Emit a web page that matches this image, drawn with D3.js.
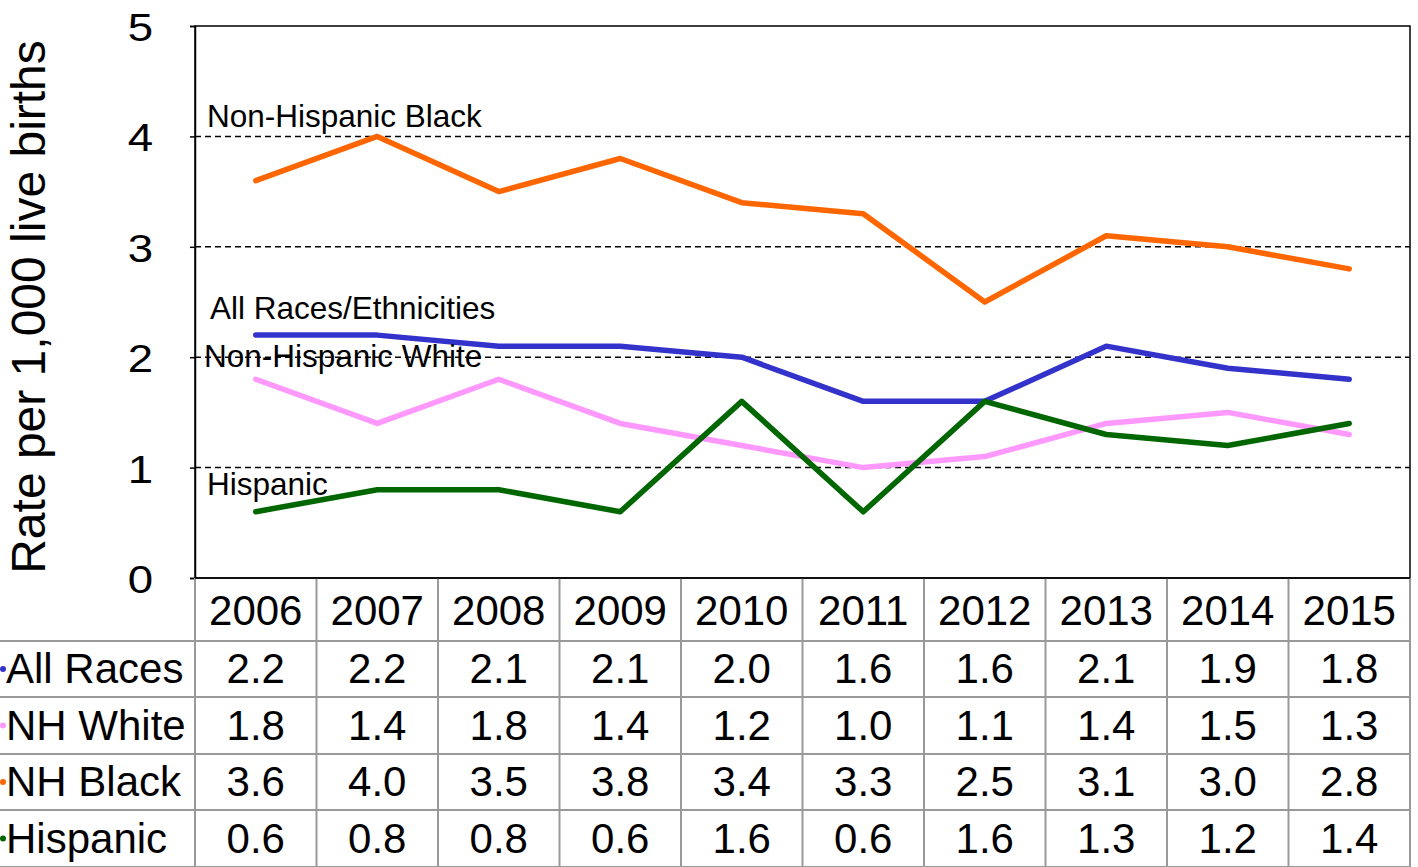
<!DOCTYPE html>
<html><head><meta charset="utf-8">
<script src="https://cdn.jsdelivr.net/npm/d3@7"></script>
<style>body{margin:0;background:#fff}svg{display:block;font-family:"Liberation Sans",Arial,sans-serif}</style>
</head><body><svg id="c" width="1418" height="867"></svg>
<script>
const years = ["2006","2007","2008","2009","2010","2011","2012","2013","2014","2015"];
const allRaces = [2.2,2.2,2.1,2.1,2.0,1.6,1.6,2.1,1.9,1.8];
const nhWhite = [1.8,1.4,1.8,1.4,1.2,1.0,1.1,1.4,1.5,1.3];
const nhBlack = [3.6,4.0,3.5,3.8,3.4,3.3,2.5,3.1,3.0,2.8];
const hispanic = [0.6,0.8,0.8,0.6,1.6,0.6,1.6,1.3,1.2,1.4];
const yTicks = [0,1,2,3,4,5];
const seriesNames = ["All Races","NH White","NH Black","Hispanic"];
const seriesLabels = ["All Races/Ethnicities","Non-Hispanic White","Non-Hispanic Black","Hispanic"];
const seriesColors = ["#3333CC","#FF99FF","#FF6600","#006600"];
const seriesValues = [allRaces, nhWhite, nhBlack, hispanic];

const svg = d3.select("#c");
const L=195, R=1410, T=26, B=578;
const x = d3.scaleBand().domain(years).range([L,R]);
const y = d3.scaleLinear().domain([0,5]).range([B,T]);

// gridlines
svg.append("g").selectAll("line").data(yTicks.filter(d=>d>0&&d<5)).join("line")
  .attr("x1",L).attr("x2",R).attr("y1",d=>y(d)).attr("y2",d=>y(d))
  .attr("stroke","#000").attr("stroke-width",1.5).attr("stroke-dasharray","6,4");

// frame
svg.append("rect").attr("x",L).attr("y",T).attr("width",R-L).attr("height",B-T)
  .attr("fill","none").attr("stroke","#000").attr("stroke-width",1.5);

// y axis
const ya = svg.append("g").attr("transform",`translate(${L},0)`)
  .call(d3.axisLeft(y).tickValues(yTicks).tickSize(5).tickFormat(""));
ya.select(".domain").attr("stroke","#000").attr("stroke-width",1.5);
ya.selectAll("line").attr("stroke","#000").attr("stroke-width",1.5);
svg.append("g").selectAll("text").data(yTicks).join("text")
  .attr("transform",d=>`translate(153,${y(d)+15}) scale(1.2,1)`)
  .attr("text-anchor","end").attr("font-size",38).attr("fill","#000").text(d=>d);

svg.append("text").attr("transform",`translate(45,307) rotate(-90)`)
  .attr("text-anchor","middle").attr("font-size",48).attr("fill","#000")
  .text("Rate per 1,000 live births");

// lines
const line = d3.line().x((d,i)=>x(years[i])+x.bandwidth()/2).y(d=>y(d));
svg.append("g").selectAll("path").data(seriesValues).join("path")
  .attr("d",d=>line(d)).attr("fill","none")
  .attr("stroke",(d,i)=>seriesColors[i]).attr("stroke-width",5.5)
  .attr("stroke-linejoin","round").attr("stroke-linecap","round");

// series labels
const labelPos = [[210,319],[204,367],[207,127],[207,495]];
svg.append("g").selectAll("text").data(seriesLabels).join("text")
  .attr("x",(d,i)=>labelPos[i][0]).attr("y",(d,i)=>labelPos[i][1])
  .attr("font-size",31.5).attr("fill","#000").text(d=>d);

// table
const rowY = [578,641,697,754,810,867];
const grid = svg.append("g").attr("stroke","#999").attr("stroke-width",2);
rowY.slice(1).forEach(yy=>grid.append("line").attr("x1",0).attr("x2",R).attr("y1",yy).attr("y2",yy));
years.forEach(yr=>grid.append("line").attr("x1",x(yr)).attr("x2",x(yr)).attr("y1",B).attr("y2",867));
grid.append("line").attr("x1",R).attr("x2",R).attr("y1",B).attr("y2",867);
svg.append("line").attr("x1",L).attr("x2",R).attr("y1",B).attr("y2",B).attr("stroke","#000").attr("stroke-width",1.5);

svg.append("g").selectAll("text").data(years).join("text")
  .attr("x",d=>x(d)+x.bandwidth()/2).attr("y",625).attr("text-anchor","middle")
  .attr("font-size",42).attr("fill","#000").text(d=>d);

seriesNames.forEach((name,i)=>{
  const cy = (rowY[i+1]+rowY[i+2])/2;
  svg.append("circle").attr("cx",3).attr("cy",cy).attr("r",3).attr("fill",seriesColors[i]);
  svg.append("text").attr("x",6).attr("y",cy+14).attr("font-size",42).attr("fill","#000").text(name);
  svg.append("g").selectAll("text").data(seriesValues[i]).join("text")
    .attr("x",(d,j)=>x(years[j])+x.bandwidth()/2).attr("y",cy+14).attr("text-anchor","middle")
    .attr("font-size",42).attr("fill","#000").text(d=>d3.format(".1f")(d));
});
</script></body></html>
